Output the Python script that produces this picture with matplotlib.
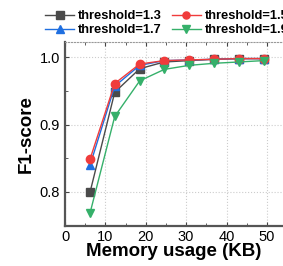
import matplotlib.pyplot as plt
import numpy as np

plt.rcParams['font.family'] = ['Liberation Sans', 'DejaVu Sans']

memory = [6.2, 12.3, 18.5, 24.6, 30.8, 36.9, 43.1, 49.2]
f1_13 = [0.800, 0.948, 0.983, 0.993, 0.995, 0.997, 0.998, 0.998]
f1_15 = [0.849, 0.961, 0.990, 0.995, 0.996, 0.997, 0.998, 0.998]
f1_17 = [0.840, 0.957, 0.988, 0.995, 0.996, 0.997, 0.998, 0.998]
f1_19 = [0.769, 0.912, 0.965, 0.982, 0.988, 0.991, 0.993, 0.995]

# legend fills column-wise, so 1.3/1.7 go in the first column
series = [
    (f1_13, 'threshold=1.3', '#4a4a4a', 's'),
    (f1_17, 'threshold=1.7', '#1f6fe0', '^'),
    (f1_15, 'threshold=1.5', '#f03c3c', 'o'),
    (f1_19, 'threshold=1.9', '#35b06a', 'v'),
]

fig = plt.figure(figsize=(2.83, 2.66), dpi=100)
ax = fig.add_axes([0.23, 0.152, 0.77, 0.691])

for vals, lab, col, mk in series:
    ax.plot(memory, vals, color=col, marker=mk, markersize=6, linewidth=1, label=lab)

ax.set_xlim(0, 54)
ax.set_ylim(0.75, 1.023)
ax.set_xticks([0, 10, 20, 30, 40, 50])
ax.set_xticks([5, 15, 25, 35, 45], minor=True)
ax.set_yticks([0.8, 0.9, 1.0])
ax.set_yticks([0.85, 0.95], minor=True)
ax.grid(True, which='major', linestyle=':', color='#cccccc', linewidth=0.8)
ax.tick_params(which='both', direction='in', labelsize=10.5, colors='#444444', labelcolor='black')
ax.tick_params(which='major', length=3)
ax.tick_params(which='minor', length=2)
ax.tick_params(top=True, which='both')

for s in ['left', 'bottom']:
    ax.spines[s].set_linewidth(1.6)
    ax.spines[s].set_color('#555555')
ax.spines['top'].set_linestyle(':')
ax.spines['top'].set_color('#999999')
ax.spines['right'].set_visible(False)

ax.set_xlabel('Memory usage (KB)', fontsize=13.5, fontweight='bold', labelpad=-1)
ax.set_ylabel('F1-score', fontsize=13.5, fontweight='bold', labelpad=4)

ax.legend(loc='lower left', bbox_to_anchor=(-0.10, 1.02), ncol=2, frameon=False,
          prop={'weight': 'bold', 'size': 9.25}, handlelength=2.25, handletextpad=0.29,
          columnspacing=0.78, labelspacing=0.15, borderaxespad=0, borderpad=0.15,
          markerscale=0.85)

fig.savefig('out.png', dpi=100)
